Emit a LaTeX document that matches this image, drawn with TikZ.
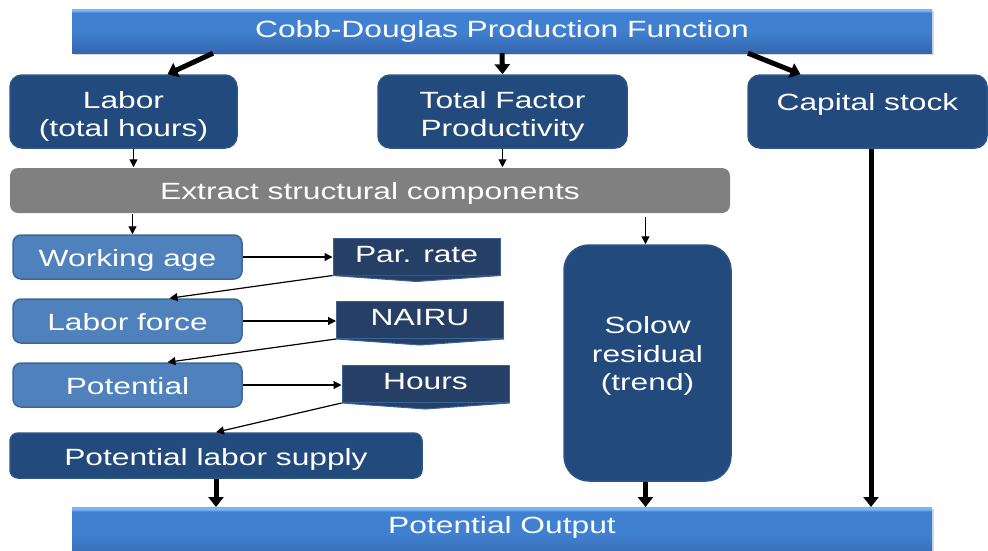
\documentclass[tikz,border=0pt]{standalone}
\usepackage{fontspec}
\setmainfont{Liberation Sans}[FakeStretch=1.35]
\usetikzlibrary{arrows.meta, shadows}
\definecolor{my_darkblue}{RGB}{34, 74, 124}
\definecolor{my_midblue}{RGB}{79, 129, 189}
\definecolor{my_navy}{RGB}{37, 63, 102}
\definecolor{my_gray}{RGB}{128, 128, 128}
\definecolor{my_barlight}{RGB}{122, 182, 242}
\definecolor{my_barmid}{RGB}{64, 128, 208}
\definecolor{my_bardark}{RGB}{54, 104, 176}
\pgfdeclareverticalshading{barshade}{100bp}{color(0bp)=(my_bardark); color(26bp)=(my_bardark); color(50bp)=(my_barmid); color(71bp)=(my_barmid); color(73bp)=(my_barlight); color(100bp)=(my_barlight)}
\tikzset {
  bar/.style = {rectangle, shading=barshade, text=white, minimum width=860pt, inner sep=0pt, drop shadow={opacity=0.3, shadow xshift=2pt, shadow yshift=-2pt}},
  darkbox/.style = {draw=my_darkblue!80!my_midblue, line width=1.5pt, fill=my_darkblue, rounded corners=12pt, text=white, align=center, inner sep=0pt},
  lightbox/.style = {draw=my_midblue!80!black, line width=1.5pt, fill=my_midblue, rounded corners=8pt, text=white, minimum width=229pt, minimum height=44pt, inner sep=0pt, text height=20pt, text depth=1pt},
  chevron/.style = {draw=my_midblue!55!my_navy, line width=1pt, fill=my_navy, text=white, minimum width=167pt, minimum height=37pt, inner sep=0pt, text height=14pt, text depth=3pt},
  line/.style = {-{Triangle[length=8pt, width=8pt]}, line width=1.2pt},
  fatline/.style = {-{Triangle[length=10pt, width=15pt]}, line width=5pt},
}

\begin{document}
\begin{tikzpicture}[x=1pt, y=-1pt, font=\fontsize{23.5}{28.5}\selectfont]
    \useasboundingbox (0,0) rectangle (988,550);

    % top row
    \node[bar, minimum height=44pt, text height=15pt, text depth=2pt] (cobb) at (502,31) {Cobb-Douglas Production Function};
    \node[darkbox, minimum width=227pt, minimum height=73pt, text height=50pt, text depth=0pt] (labor) at (123.5,111.5) {Labor\\(total hours)};
    \node[darkbox, minimum width=249pt, minimum height=73pt, text height=50pt, text depth=0pt] (tfp) at (502.5,111.5) {Total Factor\\Productivity};
    \node[darkbox, minimum width=239pt, minimum height=73pt, text height=10pt, text depth=12pt] (capital) at (867.5,111.5) {Capital stock};

    \node[darkbox, draw=none, fill=my_gray, rounded corners=8pt, minimum width=720pt, minimum height=45pt, text height=19pt, text depth=1pt] (extract) at (370,190.5) {Extract structural components};

    % labor block
    \node[lightbox] (working) at (127.5,257) {Working age};
    \node[lightbox] (laborforce) at (127.5,321) {Labor force};
    \node[lightbox] (potential) at (127.5,385) {Potential};
    \node[darkbox, rounded corners=8pt, minimum width=412pt, minimum height=45pt, text height=21pt, text depth=1pt] (supply) at (216,455.5) {Potential labor supply};

    \node[chevron] (parrate) at (416.5,256.5) {Par. rate};
    \node[chevron] (nairu) at (420,320) {NAIRU};
    \node[chevron] (hours) at (425.5,384) {Hours};
    \foreach \n in {parrate, nairu, hours}
      \path[fill=my_navy, draw=my_midblue!55!my_navy, line width=1pt] (\n.south west) -- ([yshift=-6pt]\n.south) -- (\n.south east);

    \node[darkbox, rounded corners=25pt, minimum width=167pt, minimum height=236pt, text height=55pt, text depth=0pt] (solow) at (647.5,363) {Solow\\residual\\(trend)};

    \node[bar, anchor=north, inner ysep=8pt, text height=18pt, text depth=20pt] (output) at (502,507) {Potential Output};

    % connectors
    \draw[fatline] ([xshift=-289pt]cobb.south) -- ([xshift=44pt]labor.north);
    \draw[fatline] (cobb.south) -- (tfp.north);
    \draw[fatline] ([xshift=246pt]cobb.south) -- ([xshift=-67pt]capital.north);

    \draw[line] ([xshift=10pt]labor.south) -- ([xshift=10pt]labor.south |- extract.north);
    \draw[line] (tfp.south) -- (tfp.south |- extract.north);
    \draw[line] ([xshift=5pt]working.north |- extract.south) -- ([xshift=5pt]working.north);
    \draw[line] ([xshift=-2pt, yshift=-3pt]solow.north |- extract.south) -- ([xshift=-2pt]solow.north);

    \draw[line] (working.east) -- (working.east -| parrate.west);
    \draw[line] (laborforce.east) -- (laborforce.east -| nairu.west);
    \draw[line] (potential.east) -- (potential.east -| hours.west);
    \draw[line] (parrate.south west) -- ([xshift=42pt]laborforce.north);
    \draw[line] (nairu.south west) -- ([xshift=40pt]potential.north);
    \draw[line] (hours.south west) -- (supply.north);

    \draw[fatline] (supply.south) -- (supply.south |- output.north);
    \draw[fatline] ([xshift=-2pt]solow.south) -- ([xshift=-2pt]solow.south |- output.north);
    \draw[fatline] ([xshift=3.5pt]capital.south) -- ([xshift=3.5pt]capital.south |- output.north);

\end{tikzpicture}
\end{document}
